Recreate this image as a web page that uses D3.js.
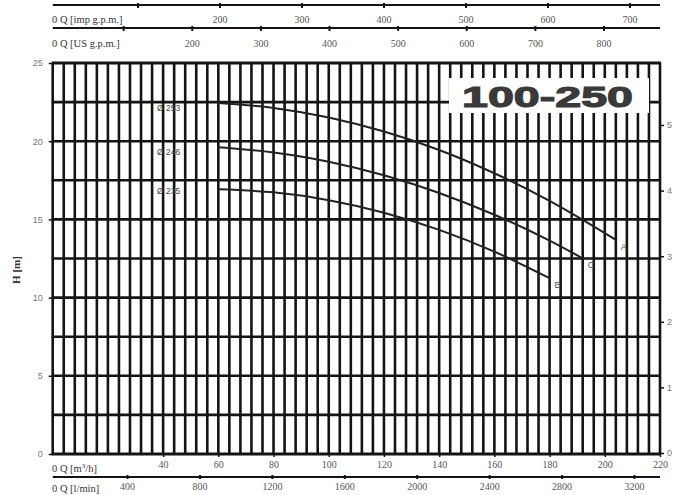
<!DOCTYPE html>
<html><head><meta charset="utf-8">
<script src="https://cdn.jsdelivr.net/npm/d3@7"></script>
<style>body{margin:0;background:#fff}svg{display:block}</style>
</head><body>
<svg id="c" width="673" height="495"></svg>
<script>
// ---- data ----
const hTicks = [0, 5, 10, 15, 20, 25];
const qTickLabels = [40, 60, 80, 100, 120, 140, 160, 180, 200, 220];
const lminTicks = [400, 800, 1200, 1600, 2000, 2400, 2800, 3200];
const impTicks = [100, 200, 300, 400, 500, 600, 700];
const impLabels = [200, 300, 400, 500, 600, 700];
const usTicks = [100, 200, 300, 400, 500, 600, 700, 800];
const usLabels = [200, 300, 400, 500, 600, 700, 800];
const rightTicks = [0, 1, 2, 3, 4, 5];

const curveA_Q = [60, 80, 100, 120, 140, 160, 180, 200, 204];
const curveA_H = [22.44, 22.13, 21.52, 20.62, 19.44, 17.95, 16.18, 14.12, 13.69];
const curveC_Q = [60, 80, 100, 120, 140, 160, 180, 192];
const curveC_H = [19.62, 19.28, 18.69, 17.82, 16.69, 15.30, 13.64, 12.51];
const curveB_Q = [60, 80, 100, 120, 140, 160, 180];
const curveB_H = [16.92, 16.73, 16.23, 15.43, 14.33, 12.94, 11.24];
const diamLabels = ["Ø 253", "Ø 246", "Ø 235"];
const curveNames = ["A", "C", "B"];
const title = "100-250";

// ---- drawing ----
const svg = d3.select("#c");
const L = 52.7, R = 660, T = 63, B = 454;
const x = d3.scaleLinear([0, 220], [L, R]);
const y = d3.scaleLinear([0, 25], [B, T]);
const xImp = d3.scaleLinear([0, 700], [56, 630]);
const xUS = d3.scaleLinear([0, 800], [55, 604]);
const xL = d3.scaleLinear([0, 3200], [54.6, 634]);
const yR = d3.scaleLinear([0, 5], [453, 125]);
const ink = "#141414";
const serif = "Liberation Serif, serif";

// grid
const g = svg.append("g");
g.selectAll("line.v").data(d3.range(0, 221, 4)).join("line")
  .attr("x1", d => x(d)).attr("x2", d => x(d)).attr("y1", T).attr("y2", B)
  .attr("stroke", ink).attr("stroke-width", 2.6);
g.selectAll("line.h").data(d3.range(0, 25.1, 2.5)).join("line")
  .attr("x1", L - 1).attr("x2", R + 1).attr("y1", d => y(d)).attr("y2", d => y(d))
  .attr("stroke", ink).attr("stroke-width", d => (d === 0 || d === 25) ? 3 : 2.6);

// left axis
const left = svg.append("g").attr("transform", `translate(${L},0)`)
  .call(d3.axisLeft(y).tickValues(hTicks).tickSize(4).tickFormat(d3.format("d")));
left.select(".domain").remove();
left.selectAll("line").attr("stroke", ink).attr("stroke-width", 1.5);
left.selectAll("text").attr("fill", "#777").attr("font-family", "Liberation Sans, sans-serif")
  .attr("font-size", 9).attr("dx", -3);

svg.append("text").attr("transform", "translate(20,270) rotate(-90)")
  .attr("text-anchor", "middle").attr("font-family", serif).attr("font-weight", "bold")
  .attr("font-size", 11).attr("fill", "#333").text("H [m]");

// right axis
const right = svg.append("g").attr("transform", `translate(${R},0)`)
  .call(d3.axisRight(yR).tickValues(rightTicks).tickSize(4).tickFormat(d3.format("d")));
right.select(".domain").remove();
right.selectAll("line").attr("stroke", ink).attr("stroke-width", 1.5);
right.selectAll("text").attr("fill", "#777").attr("font-family", "Liberation Sans, sans-serif")
  .attr("font-size", 9).attr("x", 7);

// bottom m3/h axis
const bottom = svg.append("g").attr("transform", `translate(0,${B})`)
  .call(d3.axisBottom(x).tickValues(qTickLabels).tickSize(3).tickFormat(d3.format("d")));
bottom.select(".domain").remove();
bottom.selectAll("line").attr("stroke", ink).attr("stroke-width", 1.5);
bottom.selectAll("text").attr("fill", "#555").attr("font-family", serif).attr("font-size", 10).attr("y", 7);
svg.append("text").attr("x", 52).attr("y", 472).attr("font-family", serif).attr("font-size", 10.5)
  .attr("fill", "#333").html("0 Q [m<tspan baseline-shift='super' font-size='7'>3</tspan>/h]");

// l/min axis
const lmin = svg.append("g").attr("transform", "translate(0,477)")
  .call(d3.axisBottom(xL).tickValues(lminTicks).tickSize(2).tickSizeOuter(0).tickFormat(d3.format("d")));
lmin.select(".domain").attr("d", `M${L},0H${R}`).attr("stroke", ink).attr("stroke-width", 2);
lmin.selectAll("line").attr("stroke", ink).attr("stroke-width", 2).attr("y1", -2);
lmin.selectAll("text").attr("fill", "#555").attr("font-family", serif).attr("font-size", 10).attr("y", 6);
svg.append("text").attr("x", 52).attr("y", 492).attr("font-family", serif).attr("font-size", 10.5)
  .attr("fill", "#333").text("0 Q [l/min]");

// top axes
function topAxis(scale, ty, ticks, labels, name, ly) {
  const a = svg.append("g").attr("transform", `translate(0,${ty})`);
  a.append("line").attr("x1", L).attr("x2", R).attr("y1", 0).attr("y2", 0)
    .attr("stroke", ink).attr("stroke-width", 2);
  a.selectAll("line.t").data(ticks).join("line")
    .attr("x1", d => scale(d)).attr("x2", d => scale(d)).attr("y1", -2).attr("y2", 3)
    .attr("stroke", ink).attr("stroke-width", 2);
  svg.append("g").selectAll("text").data(labels).join("text")
    .attr("x", d => scale(d)).attr("y", ly).attr("text-anchor", "middle")
    .attr("font-family", serif).attr("font-size", 10).attr("fill", "#555").text(d => d);
  svg.append("text").attr("x", 52).attr("y", ly).attr("font-family", serif)
    .attr("font-size", 10.5).attr("fill", "#333").text(name);
}
topAxis(xImp, 5, impTicks, impLabels, "0 Q [imp g.p.m.]", 23);
topAxis(xUS, 28, usTicks, usLabels, "0 Q [US g.p.m.]", 47);

// curves
const line = d3.line().x(d => x(d[0])).y(d => y(d[1])).curve(d3.curveMonotoneX);
const curves = [
  d3.zip(curveA_Q, curveA_H),
  d3.zip(curveC_Q, curveC_H),
  d3.zip(curveB_Q, curveB_H)
];
svg.append("g").selectAll("path").data(curves).join("path")
  .attr("d", line).attr("fill", "none").attr("stroke", "#222").attr("stroke-width", 2);

// diameter labels
svg.append("g").selectAll("text").data(curves).join("text")
  .attr("x", 157).attr("y", (d, i) => y(d[0][1]) + (i === 2 ? 5 : 8))
  .attr("font-family", "Liberation Sans, sans-serif").attr("font-size", 8.5).attr("fill", "#444")
  .text((d, i) => diamLabels[i]);

// end letters
svg.append("g").selectAll("text").data(curves).join("text")
  .attr("x", d => x(d[d.length - 1][0]) + 5)
  .attr("y", d => y(d[d.length - 1][1]) + 10)
  .attr("font-family", "Liberation Sans, sans-serif").attr("font-size", 9).attr("fill", "#555")
  .text((d, i) => curveNames[i]);

// title box
svg.append("rect").attr("x", 449).attr("y", 78).attr("width", 200).attr("height", 35).attr("fill", "#fff");
svg.append("text").attr("x", 462).attr("y", 107).attr("font-family", "Liberation Sans, Arial, sans-serif")
  .attr("font-weight", "bold").attr("font-size", 30).attr("fill", "#3a3a3a")
  .attr("stroke", "#3a3a3a").attr("stroke-width", 1.2)
  .attr("textLength", 171).attr("lengthAdjust", "spacingAndGlyphs").text(title);
</script>
</body></html>
